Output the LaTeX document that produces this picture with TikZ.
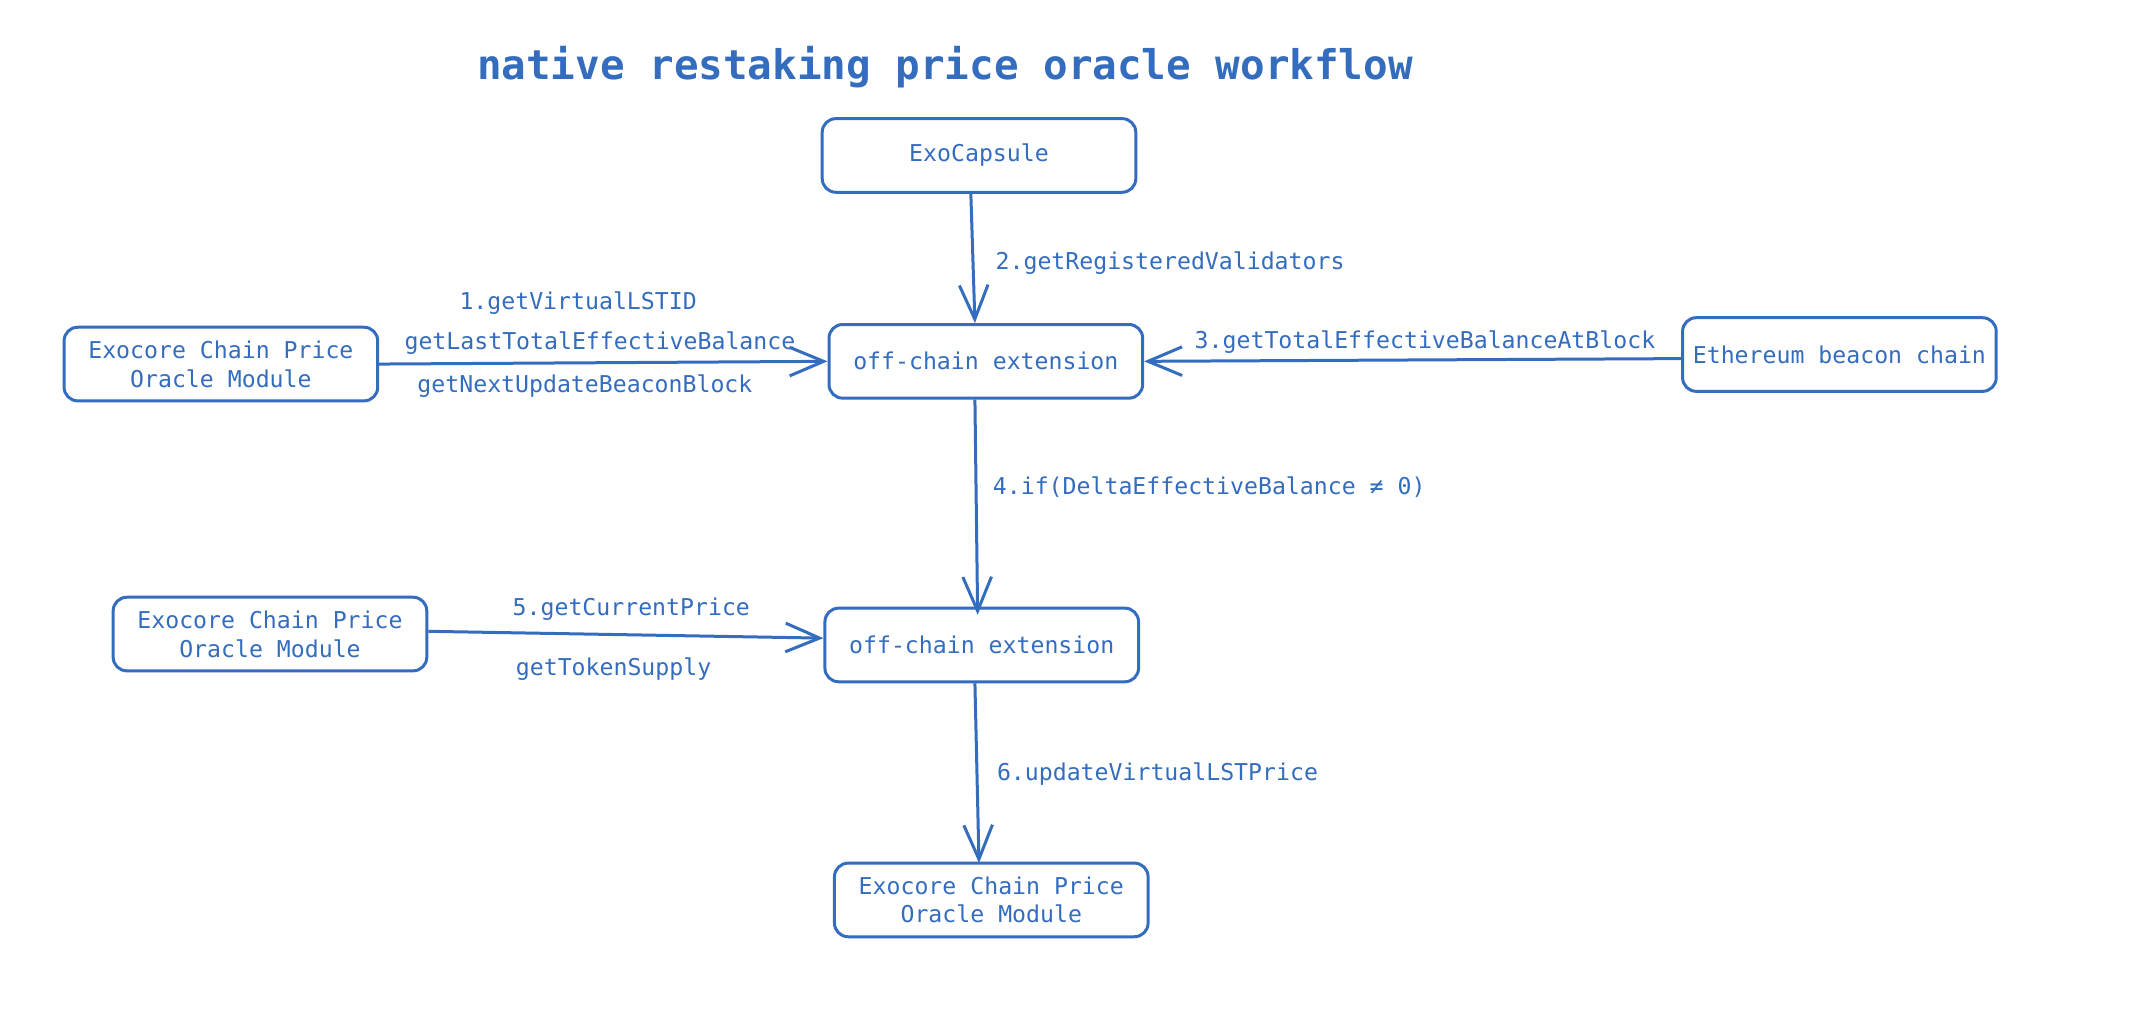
\documentclass[tikz,border=0pt]{standalone}
\usepackage{fontspec}
\setmonofont{DejaVu Sans Mono}
\usetikzlibrary{arrows.meta}
\definecolor{ink}{RGB}{52,108,190}
\begin{document}
\begin{tikzpicture}[x=1pt,y=-1pt,
  box/.style={draw=ink,line width=2.2pt,rounded corners=10pt,minimum width=230pt,minimum height=54pt,inner sep=0pt,align=center,text=ink,font=\ttfamily\fontsize{17}{21}\selectfont},
  lbl/.style={text=ink,font=\ttfamily\fontsize{17}{21}\selectfont,inner sep=0pt},
  conn/.style={draw=ink,line width=2.2pt,-{Straight Barb[length=25pt,width=21pt,line width=2.2pt]}}]
\useasboundingbox (0,0) rectangle (1568,749.5);
\node[text=ink,font=\ttfamily\bfseries\fontsize{30}{36}\selectfont,inner sep=0pt] (title) at (693,49) {native restaking price oracle workflow};
\node[box] (exo) at (718,114) {ExoCapsule};
\node[box] (oc1) at (723,265) {off-chain extension};
\node[box] (src1) at (162,267) {Exocore Chain Price\\Oracle Module};
\node[box] (eth) at (1349,260) {Ethereum beacon chain};
\node[box] (oc2) at (720,473) {off-chain extension};
\node[box] (src2) at (198,465) {Exocore Chain Price\\Oracle Module};
\node[box] (dst) at (727,660) {Exocore Chain Price\\Oracle Module};
\draw[conn] ([xshift=-6pt]exo.south) -- ([xshift=-8pt]oc1.north);
\draw[conn] (src1.east) -- (oc1.west);
\draw[conn] ([yshift=-3pt]eth.west) -- (oc1.east);
\draw[conn] ([xshift=-8pt]oc1.south) -- ([xshift=-3pt,yshift=-6pt]oc2.north);
\draw[conn] ([yshift=2pt]src2.east) -- ([yshift=5pt]oc2.west);
\draw[conn] ([xshift=-5pt]oc2.south) -- ([xshift=-9pt,yshift=-1pt]dst.north);
\node[lbl,anchor=west] (l2) at (730,193) {2.getRegisteredValidators};
\node[lbl] (l1a) at (424,222) {1.getVirtualLSTID};
\node[lbl] (l1b) at (440,252) {getLastTotalEffectiveBalance};
\node[lbl] (l1c) at (429,283) {getNextUpdateBeaconBlock};
\node[lbl,anchor=west] (l3) at (876,251) {3.getTotalEffectiveBalanceAtBlock};
\node[lbl,anchor=west] (l4) at (728,357) {4.if(DeltaEffectiveBalance ≠ 0)};
\node[lbl] (l5a) at (463,447) {5.getCurrentPrice};
\node[lbl] (l5b) at (450,491) {getTokenSupply};
\node[lbl,anchor=west] (l6) at (731,568) {6.updateVirtualLSTPrice};
\end{tikzpicture}
\end{document}
